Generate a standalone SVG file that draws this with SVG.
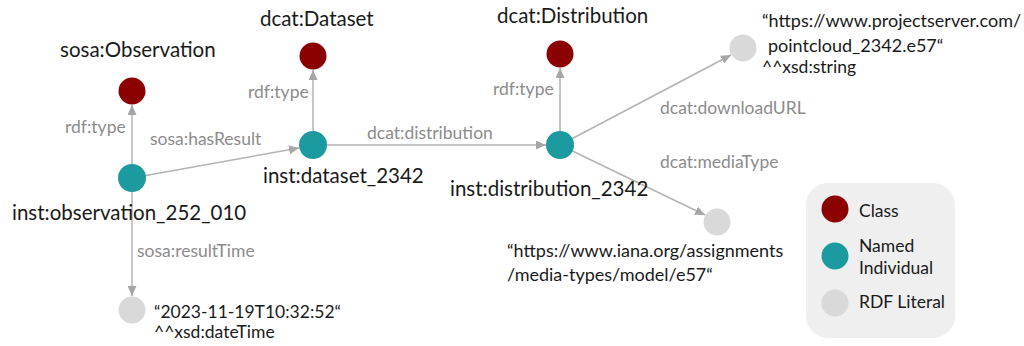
<svg xmlns="http://www.w3.org/2000/svg" width="1024" height="346" viewBox="0 0 1024 346">
  <defs>
    <marker id="arrow" markerUnits="userSpaceOnUse" markerWidth="10" markerHeight="9" refX="10" refY="4.5" orient="auto">
      <path d="M0,0 L10,4.5 L0,9 z" fill="#A6A6A6"/>
    </marker>
    <style>
      .edge { stroke: #B3B3B3; stroke-width: 1.5; fill: none; marker-end: url(#arrow); }
      .class { fill: #8B0000; }
      .indiv { fill: #1B9BA0; }
      .literal { fill: #D9D9D9; }
      .nlabel { font-family: Lato, "Liberation Sans", sans-serif; font-size: 20.5px; fill: #1A1A1A; }
      .elabel { font-family: Lato, "Liberation Sans", sans-serif; font-size: 17.5px; fill: #8C8C8C; }
      .ltext { font-family: Lato, "Liberation Sans", sans-serif; font-size: 17.5px; fill: #1A1A1A; }
      .url { font-size: 18px; }
    </style>
  </defs>
  <rect width="1024" height="346" fill="#FFFFFF"/>

  <!-- connectors -->
  <g id="connectors">
    <line class="edge" x1="132" y1="178" x2="132" y2="105"/>
    <line class="edge" x1="132" y1="178" x2="132" y2="296"/>
    <line class="edge" x1="132" y1="178" x2="299" y2="148"/>
    <line class="edge" x1="313" y1="145" x2="313" y2="70"/>
    <line class="edge" x1="313" y1="145" x2="546" y2="145"/>
    <line class="edge" x1="560" y1="145" x2="560" y2="68"/>
    <line class="edge" x1="560" y1="145" x2="731" y2="55"/>
    <line class="edge" x1="560" y1="145" x2="705" y2="215"/>
    <text class="elabel" x="65" y="133">rdf:type</text>
    <text class="elabel" x="150" y="145">sosa:hasResult</text>
    <text class="elabel" x="137" y="257">sosa:resultTime</text>
    <text class="elabel" x="248" y="98">rdf:type</text>
    <text class="elabel" x="367" y="139">dcat:distribution</text>
    <text class="elabel" x="493" y="95">rdf:type</text>
    <text class="elabel" x="660" y="114">dcat:downloadURL</text>
    <text class="elabel" x="660" y="168">dcat:mediaType</text>
  </g>

  <!-- class nodes -->
  <g id="sosa-observation">
    <circle class="class" cx="132" cy="91" r="13.5"/>
    <text class="nlabel" x="60" y="57">sosa:Observation</text>
  </g>
  <g id="dcat-dataset">
    <circle class="class" cx="313" cy="56" r="13.5"/>
    <text class="nlabel" x="260" y="26">dcat:Dataset</text>
  </g>
  <g id="dcat-distribution">
    <circle class="class" cx="560" cy="54" r="13.5"/>
    <text class="nlabel" x="497" y="23">dcat:Distribution</text>
  </g>

  <!-- named individuals -->
  <g id="inst-observation">
    <circle class="indiv" cx="132" cy="178" r="14"/>
    <text class="nlabel" x="12" y="220">inst:observation_252_010</text>
  </g>
  <g id="inst-dataset">
    <circle class="indiv" cx="313" cy="145" r="14"/>
    <text class="nlabel" x="263" y="183">inst:dataset_2342</text>
  </g>
  <g id="inst-distribution">
    <circle class="indiv" cx="560" cy="145" r="14"/>
    <text class="nlabel" x="450" y="196">inst:distribution_2342</text>
  </g>

  <!-- literals -->
  <g id="lit-resulttime">
    <circle class="literal" cx="132" cy="310" r="13.5"/>
    <text class="ltext" x="154" y="318">“2023-11-19T10:32:52“</text>
    <text class="ltext" x="154" y="338">^^xsd:dateTime</text>
  </g>
  <g id="lit-downloadurl">
    <circle class="literal" cx="743" cy="48" r="13.5"/>
    <text class="ltext url" x="762" y="27">“https://www.projectserver.com/</text>
    <text class="ltext url" x="768" y="52">pointcloud_2342.e57“</text>
    <text class="ltext" x="762" y="73">^^xsd:string</text>
  </g>
  <g id="lit-mediatype">
    <circle class="literal" cx="717" cy="222" r="13.5"/>
    <text class="ltext url" x="507" y="257">“https://www.iana.org/assignments</text>
    <text class="ltext url" x="507" y="281">/media-types/model/e57“</text>
  </g>

  <!-- legend -->
  <g id="legend">
    <rect x="806" y="183" width="149" height="155" rx="22" fill="#EFEFEF"/>
    <circle class="class" cx="835" cy="209" r="13.5"/>
    <text class="ltext" x="859" y="217">Class</text>
    <circle class="indiv" cx="835" cy="256" r="13.5"/>
    <text class="ltext" x="859" y="252">Named</text>
    <text class="ltext" x="859" y="274">Individual</text>
    <circle class="literal" cx="835" cy="303" r="13.5"/>
    <text class="ltext" x="859" y="308">RDF Literal</text>
  </g>
</svg>
